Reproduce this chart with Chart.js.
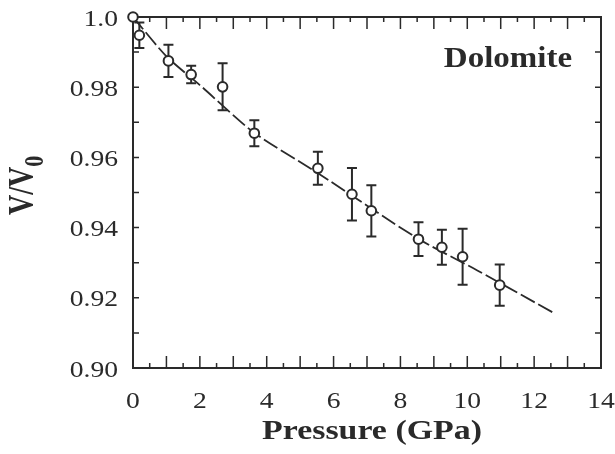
<!DOCTYPE html>
<html>
<head>
<meta charset="utf-8">
<script src="https://cdn.jsdelivr.net/npm/chart.js@4/dist/chart.umd.min.js"></script>
<style>
  html, body { margin: 0; padding: 0; background: #fff; }
  canvas { display: block; }
</style>
</head>
<body>
<canvas id="eos-chart" width="615" height="454"></canvas>
<script>
// measured compression data (V/V0 vs pressure)
const pressure = [0, 0.19, 1.06, 1.74, 2.68, 3.63, 5.53, 6.55, 7.13, 8.54, 9.24, 9.86, 10.97];
const volume = [1.000, 0.9948, 0.9875, 0.9836, 0.9801, 0.9669, 0.9569, 0.9495, 0.9448, 0.9367, 0.9344, 0.9317, 0.9236];
const volumeErr = [0, 0.0036, 0.0046, 0.0025, 0.0067, 0.0037, 0.0047, 0.0075, 0.0073, 0.0048, 0.0050, 0.0080, 0.0059];

// fitted EOS curve
const fitPressure = [0, 1.0, 2.0, 3.6, 5.5, 8.5, 10.3, 12.6];
const fitVolume = [1.000, 0.9888, 0.9806, 0.9672, 0.9557, 0.9370, 0.9278, 0.9156];

const xTicks = [0, 2, 4, 6, 8, 10, 12, 14];
const xTickLabels = ['0', '2', '4', '6', '8', '10', '12', '14'];
const yTicks = [0.90, 0.92, 0.94, 0.96, 0.98, 1.0];
const yTickLabels = ['0.90', '0.92', '0.94', '0.96', '0.98', '1.0'];

const ink = '#2a2a2a';
const serif = '"Liberation Serif", "Times New Roman", Times, serif';

// text in the figure is slightly wide, so squeeze it out horizontally
const drawText = (ctx, text, x, y, font, align, sx) => {
    ctx.save();
    ctx.translate(x, y);
    ctx.scale(sx, 1);
    ctx.font = font;
    ctx.textAlign = align;
    ctx.textBaseline = 'alphabetic';
    ctx.fillStyle = ink;
    ctx.fillText(text, 0, 0);
    ctx.restore();
};

const errorBars = {
    id: 'errorBars',
    beforeDatasetsDraw(chart) {
        const { ctx, scales: { x, y } } = chart;
        ctx.save();
        ctx.strokeStyle = ink;
        ctx.lineWidth = 2;
        pressure.forEach((p, i) => {
            if (!volumeErr[i]) return;
            const px = x.getPixelForValue(p);
            const top = y.getPixelForValue(volume[i] + volumeErr[i]);
            const bot = y.getPixelForValue(volume[i] - volumeErr[i]);
            ctx.beginPath();
            ctx.moveTo(px, top); ctx.lineTo(px, bot);
            ctx.moveTo(px - 5, top); ctx.lineTo(px + 5, top);
            ctx.moveTo(px - 5, bot); ctx.lineTo(px + 5, bot);
            ctx.stroke();
        });
        ctx.restore();
    }
};

const frameAndLabels = {
    id: 'frameAndLabels',
    beforeDatasetsDraw(chart) {
        const { ctx, chartArea: a, scales: { x, y } } = chart;
        ctx.save();
        ctx.strokeStyle = ink;
        ctx.lineWidth = 2;
        ctx.strokeRect(a.left, a.top, a.right - a.left, a.bottom - a.top);

        // inward ticks, every 0.5 GPa (long on whole numbers)
        ctx.lineWidth = 1.5;
        ctx.beginPath();
        for (let v = 0.5; v < 14; v += 0.5) {
            const px = x.getPixelForValue(v);
            const len = Number.isInteger(v) ? 12 : 5;
            ctx.moveTo(px, a.bottom); ctx.lineTo(px, a.bottom - len);
            ctx.moveTo(px, a.top); ctx.lineTo(px, a.top + len);
        }
        for (let k = 1; k < 10; k++) {
            const py = y.getPixelForValue(0.90 + k * 0.01);
            ctx.moveTo(a.left, py); ctx.lineTo(a.left + 6, py);
            ctx.moveTo(a.right, py); ctx.lineTo(a.right - 6, py);
        }
        ctx.stroke();
        ctx.restore();
    },
    afterDraw(chart) {
        const { ctx, chartArea: a, scales: { x, y } } = chart;
        const tickFont = '23px ' + serif;
        xTicks.forEach((v, i) => {
            drawText(ctx, xTickLabels[i], x.getPixelForValue(v), a.bottom + 40, tickFont, 'center', 1.2);
        });
        yTicks.forEach((v, i) => {
            drawText(ctx, yTickLabels[i], a.left - 15, y.getPixelForValue(v) + 8.5, tickFont, 'right', 1.2);
        });

        drawText(ctx, 'Pressure (GPa)', 372, 439, 'bold 28px ' + serif, 'center', 1.21);
        drawText(ctx, 'Dolomite', 508, 67, 'bold 30px ' + serif, 'center', 1.1);

        // rotated y title with subscript
        ctx.save();
        ctx.translate(33, 215);
        ctx.rotate(-Math.PI / 2);
        ctx.scale(1, 1.25);
        ctx.fillStyle = ink;
        ctx.textAlign = 'left';
        ctx.textBaseline = 'alphabetic';
        ctx.font = 'bold 28px ' + serif;
        ctx.fillText('V/V', 0, 0);
        const w = ctx.measureText('V/V').width;
        ctx.font = 'bold 22px ' + serif;
        ctx.fillText('0', w, 8);
        ctx.restore();
    }
};

const buildChart = () => new Chart(document.getElementById('eos-chart'), {
    type: 'scatter',
    data: {
        datasets: [
            {
                label: 'data',
                data: pressure.map((p, i) => ({ x: p, y: volume[i] })),
                pointRadius: 4.8,
                pointBorderWidth: 2,
                borderColor: ink,
                backgroundColor: '#fff',
                showLine: false,
                clip: false,
                order: 0
            },
            {
                label: 'fit',
                type: 'line',
                data: fitPressure.map((p, i) => ({ x: p, y: fitVolume[i] })),
                borderColor: ink,
                borderWidth: 1.8,
                borderDash: [16, 4],
                pointRadius: 0,
                tension: 0.25,
                fill: false,
                order: 1
            }
        ]
    },
    options: {
        responsive: false,
        animation: false,
        devicePixelRatio: 1,
        layout: { padding: { left: 0, right: 14, top: 17, bottom: 0 } },
        plugins: { legend: { display: false }, tooltip: { enabled: false } },
        scales: {
            x: {
                type: 'linear',
                min: 0, max: 14,
                ticks: { display: false, stepSize: 2 },
                grid: { display: false },
                border: { display: false },
                afterFit(scale) { scale.height = 86; }
            },
            y: {
                type: 'linear',
                min: 0.90, max: 1.0,
                ticks: { display: false, stepSize: 0.02 },
                grid: { display: false },
                border: { display: false },
                afterFit(scale) { scale.width = 133; }
            }
        }
    },
    plugins: [errorBars, frameAndLabels]
});

Promise.all([
    document.fonts.load('23px "Liberation Serif"'),
    document.fonts.load('bold 28px "Liberation Serif"')
]).catch(() => {}).then(buildChart);
</script>
</body>
</html>
